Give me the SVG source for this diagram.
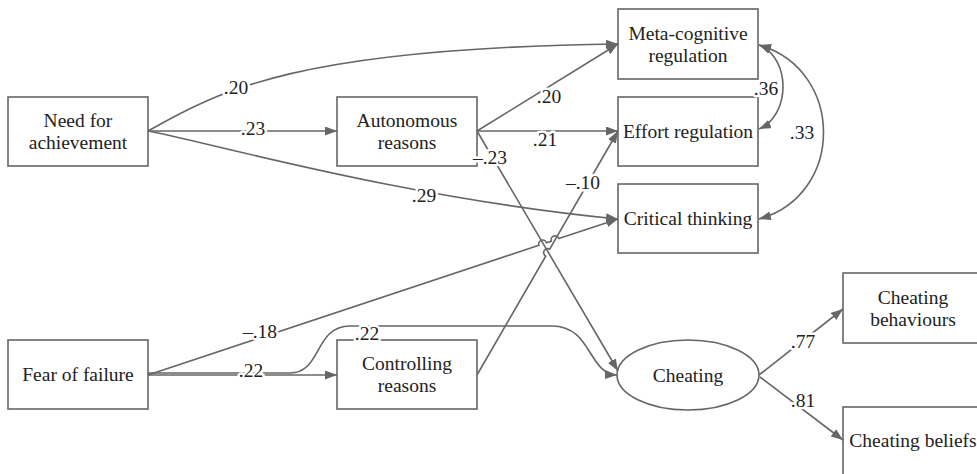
<svg xmlns="http://www.w3.org/2000/svg" width="977" height="474" viewBox="0 0 977 474">
<style>
.box{fill:#fff;stroke:#666;stroke-width:1.6}
.t{font-family:'Liberation Serif','Times New Roman',serif;font-size:19.5px;fill:#222;text-anchor:middle;dominant-baseline:central}
.e{fill:none;stroke:#666;stroke-width:1.6}
.a{marker-end:url(#ah)}
.d{marker-start:url(#ah);marker-end:url(#ah)}
.lb{font-family:'Liberation Serif','Times New Roman',serif;font-size:19.5px;fill:#222;text-anchor:middle;dominant-baseline:central;stroke:#fff;stroke-width:5;paint-order:stroke;stroke-linejoin:round}
</style>
<defs>
<marker id="ah" markerUnits="userSpaceOnUse" markerWidth="13" markerHeight="10" refX="12" refY="4.5" orient="auto-start-reverse">
<path d="M0,0 L12,4.5 L0,9 z" fill="#666"/>
</marker>
</defs>
<rect width="977" height="474" fill="#fff"/>
<g id="nodes" font-family="Liberation Serif" font-size="19.5">
<g id="need"><rect class="box" x="8" y="97" width="140" height="69"/><text class="t" x="78" y="120.5">Need for</text><text class="t" x="78" y="142.5">achievement</text></g>
<g id="autonomous"><rect class="box" x="337" y="97" width="140" height="69"/><text class="t" x="407" y="120.5">Autonomous</text><text class="t" x="407" y="142.5">reasons</text></g>
<g id="meta"><rect class="box" x="618" y="9" width="140" height="70"/><text class="t" x="688" y="33">Meta-cognitive</text><text class="t" x="688" y="55">regulation</text></g>
<g id="effort"><rect class="box" x="618" y="97" width="140" height="69"/><text class="t" x="688" y="131.5">Effort regulation</text></g>
<g id="critical"><rect class="box" x="618" y="184" width="140" height="69"/><text class="t" x="688" y="218.5">Critical thinking</text></g>
<g id="fear"><rect class="box" x="8" y="340" width="140" height="69"/><text class="t" x="78" y="374.5">Fear of failure</text></g>
<g id="controlling"><rect class="box" x="337" y="340" width="140" height="69"/><text class="t" x="407" y="363.5">Controlling</text><text class="t" x="407" y="385.5">reasons</text></g>
<g id="cheating"><ellipse class="box" cx="688" cy="375" rx="71" ry="35"/><text class="t" x="688" y="375">Cheating</text></g>
<g id="behaviours"><rect class="box" x="843" y="273" width="140" height="70"/><text class="t" x="913" y="297">Cheating</text><text class="t" x="913" y="319">behaviours</text></g>
<g id="beliefs"><rect class="box" x="843" y="407" width="140" height="69"/><text class="t" x="913" y="440">Cheating beliefs</text></g>
</g>
<g id="connectors">
<path class="e a" d="M148,131 C220,90 300,48 618,44"/>
<path class="e a" d="M148,131 L337,131"/>
<path class="e a" d="M148,131 C200,140 400,198 618,219"/>
<path class="e a" d="M477,131 L618,44"/>
<path class="e a" d="M477,131 L618,131"/>
<path class="e a" d="M477,131 L618,371"/>
<path class="e a" d="M477,375 L545.7,256.2 A4,4 0 0 1 549.7,249.2 L618,131"/>
<path class="e a" d="M148,375 L538.9,245.3 A4,4 0 0 1 546.5,242.7 L551.3,241.2 A4,4 0 0 1 558.9,238.6 L618,219"/>
<path class="e a" d="M148,375 L337,375"/>
<path class="e a" d="M148,373 L290,373 C322,373 314,326 350,326 L552,326 C592,326 588,374 617,375"/>
<path class="e d" d="M759,45 C791,58 791,115 759,129"/>
<path class="e d" d="M759,45 C845,70 845,195 759,219"/>
<path class="e a" d="M759,375 L843,309"/>
<path class="e a" d="M760,377 L843,440"/>
</g>
<g id="labels" font-family="Liberation Serif" font-size="19.5">
<text class="lb" x="236" y="87">.20</text>
<text class="lb" x="253" y="128">.23</text>
<text class="lb" x="424" y="195">.29</text>
<text class="lb" x="549" y="96">.20</text>
<text class="lb" x="545" y="139">.21</text>
<text class="lb" x="490" y="157">–.23</text>
<text class="lb" x="583" y="182">–.10</text>
<text class="lb" x="260" y="331">–.18</text>
<text class="lb" x="251" y="370">.22</text>
<text class="lb" x="367" y="333">.22</text>
<text class="lb" x="766" y="88">.36</text>
<text class="lb" x="802" y="132">.33</text>
<text class="lb" x="803" y="341">.77</text>
<text class="lb" x="803" y="400">.81</text>
</g>
</svg>
